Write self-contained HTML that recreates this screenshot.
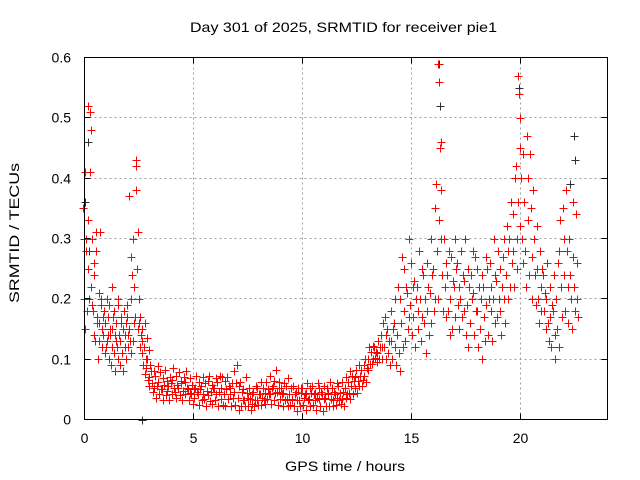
<!DOCTYPE html>
<html><head><meta charset="utf-8"><style>
html,body{margin:0;padding:0;background:#fff}
svg{display:block;font-family:"Liberation Sans",sans-serif}
</style></head><body>
<svg id="chart" width="640" height="480" viewBox="0 0 640 480" xmlns="http://www.w3.org/2000/svg">
<rect width="640" height="480" fill="#fff"/>
<text x="190" y="32" font-size="14" textLength="307" lengthAdjust="spacingAndGlyphs">Day 301 of 2025, SRMTID for receiver pie1</text>
<text transform="translate(19,303) rotate(-90)" font-size="14" textLength="140" lengthAdjust="spacingAndGlyphs">SRMTID / TECUs</text>
<text x="285" y="471" font-size="14" textLength="120" lengthAdjust="spacingAndGlyphs">GPS time / hours</text>
<g id="grid"></g>
<g id="black"></g>
<g id="red"></g>
<rect x="84.5" y="57.5" width="523" height="362" fill="none" stroke="#000" stroke-width="1"/>
<g id="ticks"></g>
</svg>
<script>
const xTicks=[0,5,10,15,20];
const yTicks=[0,0.1,0.2,0.3,0.4,0.5,0.6];
const yTickLabels=["0","0.1","0.2","0.3","0.4","0.5","0.6"];
const redData=[
[0.0,[.35,.2,.15,.28]],[0.1,[.41,.3,.18,.33]],[0.2,[.52,.25,.2,.41]],[0.3,[.51,.48,.22,.19]],[0.4,[.3,.18,.26,.14]],
[0.5,[.24,.13,.31,.16]],[0.6,[.28,.17,.1,.21]],[0.7,[.16,.13,.31,.19]],[0.8,[.2,.15,.12,.17]],[0.9,[.14,.18,.11,.16]],
[1.0,[.16,.12,.2,.14]],[1.1,[.13,.17,.1,.15]],[1.2,[.19,.14,.09,.22]],[1.3,[.15,.12,.17,.11]],[1.4,[.18,.08,.14,.13]],
[1.5,[.16,.12,.1,.19]],[1.6,[.2,.14,.09,.16]],[1.7,[.13,.17,.11,.15]],[1.8,[.15,.08,.18,.12]],[1.9,[.14,.1,.16,.19]],
[2.0,[.17,.12,.14,.37]],[2.1,[.15,.13,.11,.2]],[2.2,[.27,.24,.13,.16]],[2.3,[.3,.22,.17,.42]],[2.4,[.43,.38,.25,.15]],
[2.5,[.31,.2,.16,.12]],[2.6,[.17,.14,.11,.13]],[2.7,[.15,.09,.12,.16]],[2.8,[.12,.075,.1,.135]],[2.9,[.085,.1,.065,.115]],
[3.0,[.07,.055,.09,.08]],[3.15,[.06,.045,.08,.052]],[3.3,[.072,.035,.055,.088]],[3.45,[.062,.042,.078,.05]],[3.6,[.05,.068,.033,.058]],
[3.75,[.082,.04,.063,.048]],[3.9,[.055,.032,.07,.06]],[4.05,[.065,.043,.085,.052]],[4.2,[.045,.072,.035,.058]],[4.35,[.052,.078,.04,.063]],
[4.5,[.06,.033,.048,.07]],[4.65,[.042,.062,.08,.053]],[4.8,[.05,.032,.068,.044]],[4.95,[.043,.058,.025,.05]],[5.1,[.035,.052,.072,.045]],
[5.25,[.042,.024,.062,.05]],[5.4,[.055,.032,.07,.043]],[5.55,[.034,.06,.022,.048]],[5.7,[.063,.04,.072,.03]],[5.85,[.045,.025,.058,.052]],
[6.0,[.052,.033,.068,.042]],[6.15,[.062,.022,.045,.072]],[6.3,[.034,.052,.07,.024]],[6.45,[.042,.063,.022,.05]],[6.6,[.07,.034,.055,.043]],
[6.75,[.052,.023,.06,.035]],[6.9,[.08,.045,.024,.06]],[7.05,[.09,.035,.055,.015]],[7.2,[.062,.022,.045,.032]],[7.35,[.05,.033,.022,.07]],
[7.5,[.044,.023,.035,.052]],[7.65,[.034,.015,.043,.025]],[7.8,[.045,.022,.033,.055]],[7.95,[.032,.052,.024,.043]],[8.1,[.043,.024,.062,.035]],
[8.25,[.052,.033,.044,.025]],[8.4,[.062,.034,.05,.042]],[8.55,[.072,.043,.025,.052]],[8.7,[.055,.032,.063,.044]],[8.85,[.082,.045,.024,.053]],
[9.0,[.062,.034,.052,.043]],[9.15,[.044,.023,.06,.033]],[9.3,[.055,.034,.022,.068]],[9.45,[.043,.024,.052,.033]],[9.6,[.034,.055,.022,.043]],
[9.75,[.045,.014,.033,.052]],[9.9,[.032,.022,.053,.044]],[10.05,[.052,.024,.035,.043]],[10.2,[.044,.015,.06,.033]],[10.35,[.034,.052,.023,.044]],
[10.5,[.055,.024,.043,.032]],[10.65,[.044,.015,.035,.06]],[10.8,[.034,.052,.022,.045]],[10.95,[.043,.014,.055,.034]],[11.1,[.035,.022,.052,.043]],
[11.25,[.044,.023,.062,.034]],[11.4,[.052,.033,.022,.045]],[11.55,[.043,.024,.06,.035]],[11.7,[.055,.033,.044,.025]],[11.85,[.062,.034,.045,.022]],
[12.0,[.052,.035,.07,.043]],[12.15,[.062,.044,.034,.08]],[12.3,[.055,.072,.043,.063]],[12.45,[.07,.052,.082,.044]],[12.6,[.063,.09,.055,.072]],
[12.75,[.082,.055,.065,.09]],[12.9,[.072,.1,.062,.085]],[13.05,[.1,.082,.12,.092]],[13.2,[.112,.092,.122,.1]],[13.35,[.12,.102,.112,.095]],
[13.5,[.11,.13,.1,.12]],[13.65,[.14,.1,.12,.16]],[13.8,[.12,.17,.1,.14]],[13.95,[.15,.11,.13,.09]],[14.1,[.13,.18,.1,.15]],
[14.25,[.16,.12,.2,.09]],[14.4,[.14,.22,.11,.08]],[14.55,[.2,.16,.27,.12]],[14.7,[.18,.25,.13,.22]],[14.85,[.21,.15,.3,.17]],
[15.0,[.19,.26,.14,.22]],[15.15,[.17,.23,.12,.2]],[15.3,[.22,.15,.18,.28]],[15.45,[.2,.13,.25,.17]],[15.6,[.24,.16,.2,.11]],
[15.75,[.26,.18,.22,.14]],[15.9,[.21,.3,.16,.24]],[16.05,[.25,.18,.35,.2]],[16.2,[.39,.28,.2,.33]],[16.3,[.59,.56,.45,.3]],
[16.4,[.46,.38,.24,.18]],[16.55,[.3,.22,.17,.26]],[16.7,[.24,.18,.28,.14]],[16.85,[.2,.27,.15,.23]],[17.0,[.22,.17,.3,.25]],
[17.15,[.26,.19,.22,.15]],[17.3,[.2,.28,.17,.24]],[17.45,[.23,.18,.3,.14]],[17.6,[.19,.25,.12,.22]],[17.75,[.16,.24,.2,.28]],
[17.9,[.21,.14,.27,.18]],[18.05,[.25,.18,.12,.22]],[18.2,[.15,.2,.1,.24]],[18.35,[.22,.17,.13,.27]],[18.5,[.19,.25,.14,.2]],
[18.65,[.26,.18,.22,.13]],[18.8,[.2,.3,.16,.24]],[18.95,[.23,.17,.28,.2]],[19.1,[.18,.25,.14,.22]],[19.25,[.27,.2,.3,.16]],
[19.4,[.24,.32,.2,.28]],[19.55,[.3,.22,.36,.26]],[19.7,[.28,.34,.22,.4]],[19.85,[.42,.3,.25,.36]],[19.95,[.57,.54,.45,.32]],
[20.05,[.5,.4,.3,.26]],[20.2,[.44,.36,.28,.22]],[20.35,[.47,.4,.33,.24]],[20.5,[.44,.35,.27,.2]],[20.65,[.38,.3,.24,.19]],
[20.8,[.32,.25,.2,.16]],[20.95,[.28,.22,.18,.25]],[21.1,[.24,.18,.21,.15]],[21.25,[.2,.26,.16,.13]],[21.4,[.22,.17,.12,.19]],
[21.55,[.18,.24,.14,.1]],[21.7,[.2,.15,.26,.12]],[21.85,[.28,.33,.22,.17]],[22.0,[.35,.3,.24,.18]],[22.15,[.38,.28,.22,.16]],
[22.3,[.3,.24,.2,.15]],[22.45,[.36,.27,.22,.18]],[22.6,[.34,.26,.2,.17]]
];
const blackData=[
[0.0,[.3,.36]],[0.2,[.46,.28]],[2.65,[0.0]],
[16.3,[.59,.52]],[19.95,[.55,.45]],[22.5,[.47,.43]],[22.3,[.39]]
];
const X0=84.5,X1=607.5,Y0=419.5,Y1=57.5,XMAX=24,YMAX=0.6;
function xs(h){return X0+(X1-X0)*h/XMAX;}
function ys(v){return Y0-(Y0-Y1)*v/YMAX;}
const NS="http://www.w3.org/2000/svg";
const grid=document.getElementById('grid'),ticks=document.getElementById('ticks');
function ln(p,x1,y1,x2,y2,st,dash){const l=document.createElementNS(NS,'line');l.setAttribute('x1',x1);l.setAttribute('y1',y1);l.setAttribute('x2',x2);l.setAttribute('y2',y2);l.setAttribute('stroke',st);l.setAttribute('stroke-width',1);if(dash)l.setAttribute('stroke-dasharray',dash);p.appendChild(l);return l;}
xTicks.forEach(t=>{const x=Math.round(xs(t)-0.5)+0.5;
 if(t>0){const g=ln(grid,x,Y1,x,Y0,'#a0a0a0','2,3');}
 const a=ln(ticks,x,Y0,x,Y0-6,'#000');
 const b=ln(ticks,x,Y1,x,Y1+6,'#000');
 const tx=document.createElementNS(NS,'text');tx.setAttribute('x',x);tx.setAttribute('y',443);tx.setAttribute('font-size',14);tx.setAttribute('text-anchor','middle');tx.textContent=String(t);
 
 
 ticks.appendChild(tx);});
yTicks.forEach((t,i)=>{const y=Math.round(ys(t)-0.5)+0.5;
 if(t>0&&t<YMAX){const g=ln(grid,X0,y,X1,y,'#a0a0a0','2,3');}
 const a=ln(ticks,X0,y,X0+6,y,'#000');
 const b=ln(ticks,X1,y,X1-6,y,'#000');
 const tx=document.createElementNS(NS,'text');tx.setAttribute('x',71);tx.setAttribute('y',y+5);tx.setAttribute('font-size',14);tx.setAttribute('text-anchor','end');tx.textContent=yTickLabels[i];
 
 
 ticks.appendChild(tx);});
function drawSeries(gid,data,color,name){const g=document.getElementById(gid);let d='';
 data.forEach(([h,vals])=>vals.forEach((v,k)=>{const hh=h+(k-(vals.length-1)/2)*0.037;
  const x=Math.round(xs(hh))+0.5,y=Math.round(ys(v))+0.5;d+=`M${x-4} ${y}H${x+4}M${x} ${y-4}V${y+4}`;}));
 const p=document.createElementNS(NS,'path');p.setAttribute('d',d);p.setAttribute('stroke',color);p.setAttribute('stroke-width',1);p.setAttribute('fill','none');
 
 
 g.appendChild(p);}
drawSeries('black',blackData,'#303030','black-points');
drawSeries('red',redData,'#ff0000','red-points');
</script>
</body></html>
